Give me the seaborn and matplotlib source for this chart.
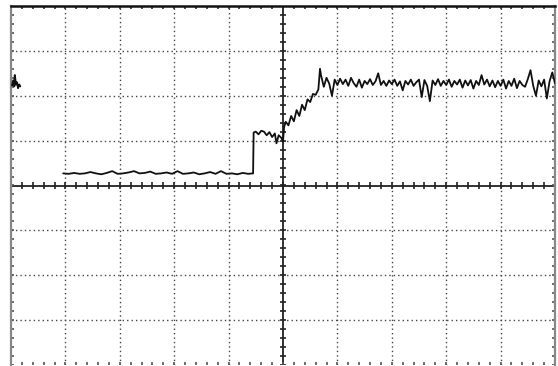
import numpy as np
import pandas as pd
import matplotlib
matplotlib.use("Agg")
import matplotlib.pyplot as plt
import seaborn as sns

# ---- data (screen divisions: x 0..10, y -4..4) ----
frag_x = [0.02, 0.04, 0.06, 0.07, 0.09, 0.11, 0.13, 0.15, 0.17]
frag_y = [2.23, 2.34, 2.21, 2.46, 2.25, 2.30, 2.17, 2.25, 2.21]

flat_x = [0.96, 1.06, 1.16, 1.26, 1.36, 1.46, 1.56, 1.66, 1.76, 1.86, 1.96,
          2.06, 2.16, 2.26, 2.36, 2.46, 2.56, 2.66, 2.76, 2.86, 2.96,
          3.06, 3.16, 3.26, 3.36, 3.46, 3.56, 3.66, 3.76, 3.86, 3.96,
          4.06, 4.16, 4.26, 4.36, 4.44]
flat_y = [0.27, 0.26, 0.28, 0.26, 0.27, 0.30, 0.27, 0.25, 0.28, 0.32, 0.26,
          0.27, 0.29, 0.32, 0.27, 0.28, 0.31, 0.26, 0.27, 0.29, 0.26,
          0.32, 0.26, 0.27, 0.29, 0.25, 0.27, 0.30, 0.26, 0.32, 0.26,
          0.27, 0.25, 0.28, 0.26, 0.27]

step_x = [4.45, 4.46, 4.50, 4.55, 4.60, 4.65, 4.70, 4.75, 4.80, 4.85, 4.88,
          4.92, 4.97, 5.00]
step_y = [0.27, 1.18, 1.20, 1.14, 1.22, 1.20, 1.12, 1.19, 1.08, 1.16, 0.94,
          1.12, 1.06, 0.98]

ramp_x = [5.02, 5.05, 5.10, 5.15, 5.20, 5.25, 5.30, 5.35, 5.40, 5.45, 5.50,
          5.55, 5.60, 5.65, 5.68]
ramp_y = [1.30, 1.42, 1.34, 1.55, 1.43, 1.68, 1.55, 1.80, 1.68, 1.92, 1.86,
          2.04, 2.02, 2.14, 2.60]

plateau_y = [2.45, 2.20, 2.40, 2.27, 2.00, 2.36, 2.24, 2.38, 2.26, 2.36,
             2.22, 2.40, 2.28, 2.20, 2.36, 2.18, 2.33, 2.26, 2.37, 2.24,
             2.32, 2.50, 2.24, 2.33, 2.22, 2.34, 2.26, 2.36, 2.22, 2.32,
             2.12, 2.33, 2.25, 2.36, 2.22, 2.30, 2.36, 1.97, 2.35, 2.22,
             1.88, 2.34, 2.24, 2.37, 2.22, 2.33, 2.24, 2.36, 2.20, 2.33,
             2.25, 2.36, 2.18, 2.34, 2.23, 2.35, 2.16, 2.33, 2.24, 2.46,
             2.25, 2.36, 2.21, 2.34, 2.19, 2.33, 2.22, 2.36, 2.16, 2.33,
             2.22, 2.38, 2.17, 2.33, 2.24, 2.20, 2.37, 2.57, 2.22, 2.00,
             2.34, 2.21, 2.36, 1.94, 2.32, 2.52, 2.28]
plateau_x = list(np.round(5.70 + 0.05 * np.arange(len(plateau_y)), 3))

main_x = flat_x + step_x + ramp_x + plateau_x
main_y = flat_y + step_y + ramp_y + plateau_y

df_frag = pd.DataFrame({"t": frag_x, "v": frag_y})
df_main = pd.DataFrame({"t": main_x, "v": main_y})

# ---- figure ----
sns.set_style("white")
fig = plt.figure(figsize=(5.58, 3.66), dpi=100)
ax = fig.add_axes([11 / 558, 1 - 365 / 366, 544 / 558, 359 / 366])
ax.set_xlim(0, 10)
ax.set_ylim(-4, 4)

grid_kw = dict(color="#444444", linewidth=1.0, linestyle=(0, (1, 2.2)), zorder=1)
for gx in range(1, 10):
    if gx != 5:
        ax.axvline(gx, **grid_kw)
for gy in range(-3, 4):
    if gy != 0:
        ax.axhline(gy, **grid_kw)

# center axes
ax.axhline(0, color="#222222", linewidth=1.3, zorder=2)
ax.axvline(5, color="#222222", linewidth=1.3, zorder=2)
xt = np.arange(0, 10.001, 0.2)
yt = np.arange(-4, 4.001, 0.2)
ax.vlines(xt, -0.07, 0.07, color="#222222", linewidth=1.2, zorder=2)
ax.hlines(yt, 5 - 0.06, 5 + 0.06, color="#222222", linewidth=1.2, zorder=2)
# edge ticks
ax.vlines(xt, 4 - 0.07, 4, color="#333333", linewidth=1.2, zorder=2)
ax.vlines(xt, -4, -4 + 0.07, color="#555555", linewidth=1.2, zorder=2)
ax.hlines(yt, 0, 0.06, color="#555555", linewidth=1.2, zorder=2)
ax.hlines(yt, 10 - 0.06, 10, color="#555555", linewidth=1.2, zorder=2)

sns.lineplot(data=df_frag, x="t", y="v", ax=ax, color="#111111",
             linewidth=1.4, sort=False, estimator=None, zorder=3)
sns.lineplot(data=df_main, x="t", y="v", ax=ax, color="#111111",
             linewidth=1.3, sort=False, estimator=None, zorder=3)

ax.set_xticks([])
ax.set_yticks([])
ax.set_xlabel("")
ax.set_ylabel("")
for side, col, lw in [("top", "#111111", 1.8), ("left", "#888888", 1.6),
                      ("right", "#888888", 1.6)]:
    ax.spines[side].set_visible(True)
    ax.spines[side].set_color(col)
    ax.spines[side].set_linewidth(lw)
ax.spines["bottom"].set_visible(False)

fig.savefig("out.png", dpi=100)
